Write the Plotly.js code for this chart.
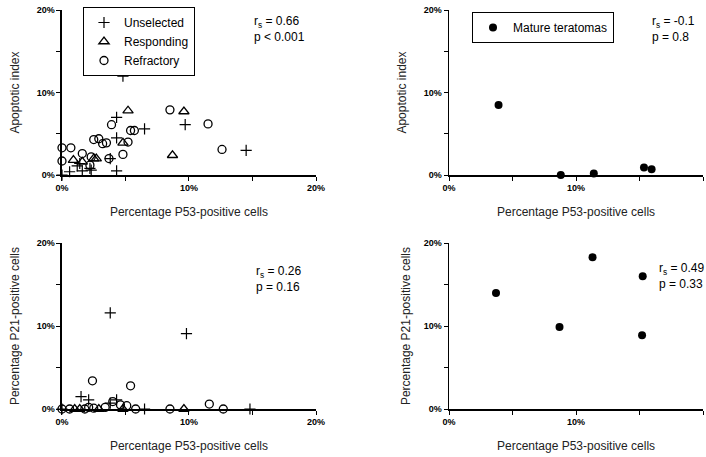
<!DOCTYPE html>
<html>
<head>
<meta charset="utf-8">
<script src="https://cdn.plot.ly/plotly-3.0.1.min.js"></script>
<style>html,body{margin:0;padding:0;background:#fff;}#chart{width:706px;height:457px;}</style>
</head>
<body>
<div id="chart"></div>
<script>
// ---- Data (percent values) ----
// Top-left: apoptotic index vs P53
const apoUnselX = [4.8, 4.3, 6.5, 9.7, 14.5, 4.3, 4.3, 0, 0.6, 1.2, 1.4, 1.6, 2.3, 3.8, 2.2];
const apoUnselY = [12.0, 7.0, 5.6, 6.1, 3.0, 4.5, 0.5, 0, 0.4, 1.1, 1.4, 0.5, 0.6, 2.0, 0.8];
const apoRespX = [5.2, 9.6, 8.7, 4.8, 0.9, 1.6, 2.7, 2.5];
const apoRespY = [7.8, 7.7, 2.4, 3.9, 1.8, 1.6, 2.0, 2.0];
const apoRefrX = [8.5, 11.5, 12.6, 3.9, 5.4, 5.7, 2.5, 2.9, 3.2, 3.5, 5.2, 4.8, 0, 0.7, 1.6, 2.3, 3.7, 0, 2.2];
const apoRefrY = [7.9, 6.2, 3.1, 6.1, 5.4, 5.4, 4.3, 4.4, 3.8, 3.9, 4.0, 2.5, 3.3, 3.3, 2.6, 2.2, 2.0, 1.7, 1.2];
// Top-right: mature teratomas
const apoTerX = [3.9, 8.8, 11.4, 15.35, 15.95];
const apoTerY = [8.5, 0.0, 0.2, 0.9, 0.7];
// Bottom-left: P21 vs P53
const p21UnselX = [3.8, 9.8, 1.5, 2.1, 3.8, 4.3, 6.5, 14.8, 0];
const p21UnselY = [11.6, 9.1, 1.5, 1.1, 0.7, 1.1, 0, 0, 0];
const p21RespX = [1.0, 1.4, 2.9, 4.8, 9.6];
const p21RespY = [0, 0, 0, 0, 0];
const p21RefrX = [2.4, 5.4, 11.6, 12.7, 8.5, 5.8, 0, 0.6, 1.8, 2.1, 2.5, 3.4, 4.0, 4.6, 5.1];
const p21RefrY = [3.4, 2.8, 0.6, 0, 0, 0, 0, 0, 0, 0.2, 0.1, 0.2, 0.9, 0.5, 0.4];
// Bottom-right: mature teratomas
const p21TerX = [3.7, 8.7, 11.3, 15.25, 15.2];
const p21TerY = [14.0, 9.9, 18.3, 16.0, 8.9];

const tickVals = [0, 10, 20];
const tickText = ['0%', '10%', '20%'];
const legendNames = ['Unselected', 'Responding', 'Refractory', 'Mature teratomas'];
const stats = [
  ['r<sub>s</sub> = 0.66', 'p &lt; 0.001'],
  ['r<sub>s</sub> = -0.1', 'p = 0.8'],
  ['r<sub>s</sub> = 0.26', 'p = 0.16'],
  ['r<sub>s</sub> = 0.49', 'p = 0.33']
];
const xTitle = 'Percentage P53-positive cells';
const yTitles = ['Apoptotic index', 'Apoptotic index', 'Percentage P21-positive cells', 'Percentage P21-positive cells'];

// ---- Styles ----
const FONT = 'Liberation Sans, Arial, sans-serif';
const plus = {symbol: 'cross-thin-open', size: 8, color: 'black', line: {color: 'black', width: 1.2}};
const tri = {symbol: 'triangle-up-open', size: 9, color: 'black', line: {color: 'black', width: 1.3}};
const circ = {symbol: 'circle-open', size: 8, color: 'black', line: {color: 'black', width: 1.3}};
const dot = {symbol: 'circle', size: 8, color: 'black'};

function tr(x, y, name, marker, xa, ya, show, legend) {
  const t = {x: x, y: y, name: name, type: 'scatter', mode: 'markers', marker: marker,
    xaxis: xa, yaxis: ya, showlegend: show, cliponaxis: false, hoverinfo: 'skip'};
  if (legend) t.legend = legend;
  return t;
}

const data = [
  tr(apoUnselX, apoUnselY, legendNames[0], plus, 'x', 'y', true),
  tr(apoRespX, apoRespY, legendNames[1], tri, 'x', 'y', true),
  tr(apoRefrX, apoRefrY, legendNames[2], circ, 'x', 'y', true),
  tr(apoTerX, apoTerY, legendNames[3], dot, 'x2', 'y2', true, 'legend2'),
  tr(p21UnselX, p21UnselY, legendNames[0], plus, 'x3', 'y3', false),
  tr(p21RespX, p21RespY, legendNames[1], tri, 'x3', 'y3', false),
  tr(p21RefrX, p21RefrY, legendNames[2], circ, 'x3', 'y3', false),
  tr(p21TerX, p21TerY, legendNames[3], dot, 'x4', 'y4', false)
];

function baseAxis(dom, anchor, title, standoff) {
  return {domain: dom, anchor: anchor, range: [0, 20], tickvals: tickVals, ticktext: tickText,
    ticks: 'outside', ticklen: 4, tickwidth: 1, tickcolor: 'black', showline: true, linecolor: 'black', linewidth: 1.5,
    showgrid: false, zeroline: false, fixedrange: true,
    minor: {dtick: 5, ticks: 'outside', ticklen: 4, tickwidth: 1, tickcolor: 'black', showgrid: false},
    tickfont: {family: FONT, size: 9, weight: 'bold', color: 'black'},
    title: {text: title, font: {family: FONT, size: 12, color: '#222'}, standoff: standoff}};
}
function xax(dom, anchor) { return baseAxis(dom, anchor, xTitle, 15); }
function yax(dom, anchor, title, so) { return baseAxis(dom, anchor, title, so); }

const xL = [0.0878, 0.4476], xR = [0.636, 0.9958];
const yT = [0.617, 0.978], yB = [0.105, 0.468];

function statAnn(xpx, ypx, txt) {
  return {xref: 'paper', yref: 'paper', x: xpx / 706, y: 1 - ypx / 457, xanchor: 'left', yanchor: 'middle',
    text: txt, showarrow: false, font: {family: FONT, size: 12, color: 'black'}};
}

const layout = {
  width: 706, height: 457,
  margin: {l: 0, r: 0, t: 0, b: 0},
  paper_bgcolor: 'white', plot_bgcolor: 'white',
  font: {family: FONT, color: 'black'},
  xaxis: xax(xL, 'y'), yaxis: yax(yT, 'x', yTitles[0], 14),
  xaxis2: xax(xR, 'y2'), yaxis2: yax(yT, 'x2', yTitles[1], 14),
  xaxis3: xax(xL, 'y3'), yaxis3: yax(yB, 'x3', yTitles[2], 14),
  xaxis4: xax(xR, 'y4'), yaxis4: yax(yB, 'x4', yTitles[3], 10),
  legend: {x: 83 / 706, y: 1 - 7 / 457, xanchor: 'left', yanchor: 'top', bordercolor: 'black', borderwidth: 1,
    bgcolor: 'white', font: {family: FONT, size: 12, color: 'black'}, tracegroupgap: 0, itemwidth: 30},
  legend2: {x: 472 / 706, y: 1 - 12 / 457, xanchor: 'left', yanchor: 'top', bordercolor: 'black', borderwidth: 1,
    bgcolor: 'white', font: {family: FONT, size: 12, color: 'black'}, itemwidth: 30},
  annotations: [
    statAnn(252, 22, stats[0][0]), statAnn(252, 37, stats[0][1]),
    statAnn(650, 22, stats[1][0]), statAnn(650, 37, stats[1][1]),
    statAnn(254, 272, stats[2][0]), statAnn(254, 287, stats[2][1]),
    statAnn(657, 269, stats[3][0]), statAnn(657, 284, stats[3][1])
  ]
};

Plotly.newPlot('chart', data, layout, {displayModeBar: false, staticPlot: true});
</script>
</body>
</html>
